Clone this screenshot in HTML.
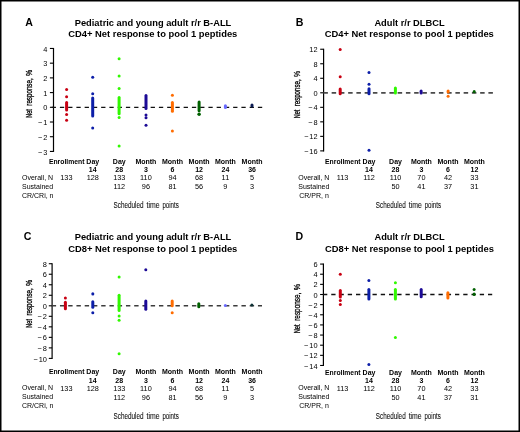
<!DOCTYPE html>
<html><head><meta charset="utf-8"><style>
html,body{margin:0;padding:0;background:#fff;}
body{width:520px;height:432px;overflow:hidden;position:relative;}
svg{position:absolute;left:0;top:0;display:block;will-change:transform;}
text{font-family:"Liberation Sans", sans-serif;fill:#000;}
</style></head><body>
<svg width="520" height="432" viewBox="0 0 520 432">
<rect x="0" y="0" width="520" height="432" fill="#fff"/>
<text x="25.3" y="25.8" font-size="10.6" text-anchor="start" font-weight="bold">A</text>
<text x="153" y="25.8" font-size="9.3" text-anchor="middle" font-weight="bold">Pediatric and young adult r/r B-ALL</text>
<text x="152.8" y="36.8" font-size="9.4" text-anchor="middle" font-weight="bold">CD4+ Net response to pool 1 peptides</text>
<text transform="translate(31.8,117.85) rotate(-90)" x="0" y="0" font-size="9" textLength="8.73" lengthAdjust="spacingAndGlyphs" style="fill:#000;stroke:#000;stroke-width:0.3px">Net</text>
<text transform="translate(31.8,105.67) rotate(-90)" x="0" y="0" font-size="9" textLength="27.30" lengthAdjust="spacingAndGlyphs" style="fill:#000;stroke:#000;stroke-width:0.3px">response,</text>
<text transform="translate(31.8,76.04) rotate(-90)" x="0" y="0" font-size="9" textLength="6.19" lengthAdjust="spacingAndGlyphs" style="fill:#000;stroke:#000;stroke-width:0.3px">%</text>
<line x1="53.5" y1="47.959999999999994" x2="53.5" y2="151.93" stroke="#000" stroke-width="1.2"/>
<line x1="49.9" y1="48.46" x2="53.5" y2="48.46" stroke="#000" stroke-width="1.1"/>
<text x="47.3" y="51.56" font-size="7.4" text-anchor="end">4</text>
<line x1="49.9" y1="63.17" x2="53.5" y2="63.17" stroke="#000" stroke-width="1.1"/>
<text x="47.3" y="66.27" font-size="7.4" text-anchor="end">3</text>
<line x1="49.9" y1="77.88" x2="53.5" y2="77.88" stroke="#000" stroke-width="1.1"/>
<text x="47.3" y="80.98" font-size="7.4" text-anchor="end">2</text>
<line x1="49.9" y1="92.59" x2="53.5" y2="92.59" stroke="#000" stroke-width="1.1"/>
<text x="47.3" y="95.69" font-size="7.4" text-anchor="end">1</text>
<line x1="49.9" y1="107.30" x2="53.5" y2="107.30" stroke="#000" stroke-width="1.1"/>
<text x="47.3" y="110.40" font-size="7.4" text-anchor="end">0</text>
<line x1="49.9" y1="122.01" x2="53.5" y2="122.01" stroke="#000" stroke-width="1.1"/>
<text x="47.3" y="125.11" font-size="7.4" text-anchor="end">−<tspan dx="0.9">1</tspan></text>
<line x1="49.9" y1="136.72" x2="53.5" y2="136.72" stroke="#000" stroke-width="1.1"/>
<text x="47.3" y="139.82" font-size="7.4" text-anchor="end">−<tspan dx="0.9">2</tspan></text>
<line x1="49.9" y1="151.43" x2="53.5" y2="151.43" stroke="#000" stroke-width="1.1"/>
<text x="47.3" y="154.53" font-size="7.4" text-anchor="end">−<tspan dx="0.9">3</tspan></text>
<line x1="51.65" y1="107.3" x2="262.2" y2="107.3" stroke="#111" stroke-width="1.25" stroke-dasharray="4.3 3.95"/>
<circle cx="66.6" cy="89.6" r="1.5" fill="#c80012"/>
<circle cx="66.6" cy="96.8" r="1.5" fill="#c80012"/>
<line x1="66.6" y1="102.50" x2="66.6" y2="110.10" stroke="#c80012" stroke-width="3.0" stroke-linecap="round"/>
<circle cx="66.6" cy="114.4" r="1.5" fill="#c80012"/>
<circle cx="66.6" cy="120.2" r="1.5" fill="#c80012"/>
<circle cx="92.7" cy="77.2" r="1.5" fill="#0c1ea8"/>
<circle cx="92.7" cy="93.7" r="1.5" fill="#0c1ea8"/>
<line x1="92.7" y1="98.10" x2="92.7" y2="115.90" stroke="#0c1ea8" stroke-width="3.0" stroke-linecap="round"/>
<circle cx="92.7" cy="128.0" r="1.5" fill="#0c1ea8"/>
<circle cx="119.1" cy="58.7" r="1.5" fill="#30f800"/>
<circle cx="119.1" cy="76.0" r="1.5" fill="#30f800"/>
<circle cx="119.1" cy="88.6" r="1.5" fill="#30f800"/>
<line x1="119.1" y1="97.50" x2="119.1" y2="113.70" stroke="#30f800" stroke-width="3.0" stroke-linecap="round"/>
<circle cx="119.1" cy="117.6" r="1.5" fill="#30f800"/>
<circle cx="119.1" cy="145.9" r="1.5" fill="#30f800"/>
<line x1="146.0" y1="95.40" x2="146.0" y2="108.50" stroke="#1c0a96" stroke-width="3.0" stroke-linecap="round"/>
<circle cx="146.0" cy="115.1" r="1.5" fill="#1c0a96"/>
<circle cx="146.0" cy="117.8" r="1.5" fill="#1c0a96"/>
<circle cx="146.0" cy="125.3" r="1.5" fill="#1c0a96"/>
<circle cx="172.4" cy="95.3" r="1.5" fill="#ff6c00"/>
<line x1="172.4" y1="102.40" x2="172.4" y2="111.30" stroke="#ff6c00" stroke-width="3.0" stroke-linecap="round"/>
<circle cx="172.4" cy="131.1" r="1.5" fill="#ff6c00"/>
<line x1="199.1" y1="101.90" x2="199.1" y2="110.70" stroke="#006000" stroke-width="3.0" stroke-linecap="round"/>
<circle cx="199.1" cy="114.3" r="1.75" fill="#006000"/>
<line x1="225.4" y1="105.70" x2="225.4" y2="107.40" stroke="#6a6aff" stroke-width="3.0" stroke-linecap="round"/>
<line x1="252.0" y1="105.00" x2="252.0" y2="106.10" stroke="#0a1a52" stroke-width="3.0" stroke-linecap="round"/>
<text x="66.7" y="163.8" font-size="6.8" text-anchor="middle" font-weight="bold">Enrollment</text>
<text x="92.75" y="163.8" font-size="7" text-anchor="middle" font-weight="bold">Day</text>
<text x="92.75" y="172.4" font-size="7" text-anchor="middle" font-weight="bold">14</text>
<text x="119.25" y="163.8" font-size="7" text-anchor="middle" font-weight="bold">Day</text>
<text x="119.25" y="172.4" font-size="7" text-anchor="middle" font-weight="bold">28</text>
<text x="145.9" y="163.8" font-size="7" text-anchor="middle" font-weight="bold">Month</text>
<text x="145.9" y="172.4" font-size="7" text-anchor="middle" font-weight="bold">3</text>
<text x="172.5" y="163.8" font-size="7" text-anchor="middle" font-weight="bold">Month</text>
<text x="172.5" y="172.4" font-size="7" text-anchor="middle" font-weight="bold">6</text>
<text x="199.1" y="163.8" font-size="7" text-anchor="middle" font-weight="bold">Month</text>
<text x="199.1" y="172.4" font-size="7" text-anchor="middle" font-weight="bold">12</text>
<text x="225.4" y="163.8" font-size="7" text-anchor="middle" font-weight="bold">Month</text>
<text x="225.4" y="172.4" font-size="7" text-anchor="middle" font-weight="bold">24</text>
<text x="252.1" y="163.8" font-size="7" text-anchor="middle" font-weight="bold">Month</text>
<text x="252.1" y="172.4" font-size="7" text-anchor="middle" font-weight="bold">36</text>
<text x="22" y="179.6" font-size="7" text-anchor="start">Overall, N</text>
<text x="22" y="188.8" font-size="7" text-anchor="start">Sustained</text>
<text x="22" y="197.6" font-size="7" text-anchor="start">CR/CRi, n</text>
<text x="66.4" y="180.0" font-size="7.3" text-anchor="middle">133</text>
<text x="92.75" y="180.0" font-size="7.3" text-anchor="middle">128</text>
<text x="119.25" y="180.0" font-size="7.3" text-anchor="middle">133</text>
<text x="119.25" y="189.2" font-size="7.3" text-anchor="middle">112</text>
<text x="145.9" y="180.0" font-size="7.3" text-anchor="middle">110</text>
<text x="145.9" y="189.2" font-size="7.3" text-anchor="middle">96</text>
<text x="172.5" y="180.0" font-size="7.3" text-anchor="middle">94</text>
<text x="172.5" y="189.2" font-size="7.3" text-anchor="middle">81</text>
<text x="199.1" y="180.0" font-size="7.3" text-anchor="middle">68</text>
<text x="199.1" y="189.2" font-size="7.3" text-anchor="middle">56</text>
<text x="225.4" y="180.0" font-size="7.3" text-anchor="middle">11</text>
<text x="225.4" y="189.2" font-size="7.3" text-anchor="middle">9</text>
<text x="252.1" y="180.0" font-size="7.3" text-anchor="middle">5</text>
<text x="252.1" y="189.2" font-size="7.3" text-anchor="middle">3</text>
<text x="113.50" y="208.4" font-size="9.7" textLength="30.00" lengthAdjust="spacingAndGlyphs" style="fill:#111;stroke:#111;stroke-width:0.1px">Scheduled</text>
<text x="146.50" y="208.4" font-size="9.7" textLength="13.00" lengthAdjust="spacingAndGlyphs" style="fill:#111;stroke:#111;stroke-width:0.1px">time</text>
<text x="162.40" y="208.4" font-size="9.7" textLength="16.40" lengthAdjust="spacingAndGlyphs" style="fill:#111;stroke:#111;stroke-width:0.1px">points</text>
<text x="295.7" y="25.7" font-size="10.6" text-anchor="start" font-weight="bold">B</text>
<text x="409.5" y="25.8" font-size="9.3" text-anchor="middle" font-weight="bold">Adult r/r DLBCL</text>
<text x="409.3" y="36.8" font-size="9.4" text-anchor="middle" font-weight="bold">CD4+ Net response to pool 1 peptides</text>
<text transform="translate(300.0,118.30) rotate(-90)" x="0" y="0" font-size="9" textLength="8.60" lengthAdjust="spacingAndGlyphs" style="fill:#000;stroke:#000;stroke-width:0.3px">Net</text>
<text transform="translate(300.0,106.30) rotate(-90)" x="0" y="0" font-size="9" textLength="26.90" lengthAdjust="spacingAndGlyphs" style="fill:#000;stroke:#000;stroke-width:0.3px">response,</text>
<text transform="translate(300.0,77.10) rotate(-90)" x="0" y="0" font-size="9" textLength="6.10" lengthAdjust="spacingAndGlyphs" style="fill:#000;stroke:#000;stroke-width:0.3px">%</text>
<line x1="323.6" y1="48.739999999999995" x2="323.6" y2="151.38" stroke="#000" stroke-width="1.2"/>
<line x1="320.20000000000005" y1="49.24" x2="323.6" y2="49.24" stroke="#000" stroke-width="1.1"/>
<text x="317.6" y="52.34" font-size="7.4" text-anchor="end">12</text>
<line x1="320.20000000000005" y1="63.76" x2="323.6" y2="63.76" stroke="#000" stroke-width="1.1"/>
<text x="317.6" y="66.86" font-size="7.4" text-anchor="end">8</text>
<line x1="320.20000000000005" y1="78.28" x2="323.6" y2="78.28" stroke="#000" stroke-width="1.1"/>
<text x="317.6" y="81.38" font-size="7.4" text-anchor="end">4</text>
<line x1="320.20000000000005" y1="92.80" x2="323.6" y2="92.80" stroke="#000" stroke-width="1.1"/>
<text x="317.6" y="95.90" font-size="7.4" text-anchor="end">0</text>
<line x1="320.20000000000005" y1="107.32" x2="323.6" y2="107.32" stroke="#000" stroke-width="1.1"/>
<text x="317.6" y="110.42" font-size="7.4" text-anchor="end">−<tspan dx="0.9">4</tspan></text>
<line x1="320.20000000000005" y1="121.84" x2="323.6" y2="121.84" stroke="#000" stroke-width="1.1"/>
<text x="317.6" y="124.94" font-size="7.4" text-anchor="end">−<tspan dx="0.9">8</tspan></text>
<line x1="320.20000000000005" y1="136.36" x2="323.6" y2="136.36" stroke="#000" stroke-width="1.1"/>
<text x="317.6" y="139.46" font-size="7.4" text-anchor="end">−<tspan dx="0.9">12</tspan></text>
<line x1="320.20000000000005" y1="150.88" x2="323.6" y2="150.88" stroke="#000" stroke-width="1.1"/>
<text x="317.6" y="153.98" font-size="7.4" text-anchor="end">−<tspan dx="0.9">16</tspan></text>
<line x1="323.4" y1="92.8" x2="493.0" y2="92.8" stroke="#4a4a4a" stroke-width="1.8" stroke-dasharray="4.5 3.75"/>
<circle cx="340.2" cy="49.4" r="1.5" fill="#c80012"/>
<circle cx="340.2" cy="76.8" r="1.5" fill="#c80012"/>
<line x1="340.2" y1="89.10" x2="340.2" y2="93.80" stroke="#c80012" stroke-width="3.0" stroke-linecap="round"/>
<circle cx="369.0" cy="72.6" r="1.5" fill="#0c1ea8"/>
<circle cx="369.0" cy="84.2" r="1.5" fill="#0c1ea8"/>
<line x1="369.0" y1="88.70" x2="369.0" y2="93.80" stroke="#0c1ea8" stroke-width="3.0" stroke-linecap="round"/>
<circle cx="369.0" cy="150.2" r="1.5" fill="#0c1ea8"/>
<line x1="395.4" y1="88.00" x2="395.4" y2="93.10" stroke="#30f800" stroke-width="3.0" stroke-linecap="round"/>
<line x1="421.1" y1="90.90" x2="421.1" y2="92.90" stroke="#1c0a96" stroke-width="3.0" stroke-linecap="round"/>
<line x1="448.1" y1="91.10" x2="448.1" y2="92.00" stroke="#ff6c00" stroke-width="3.0" stroke-linecap="round"/>
<circle cx="448.1" cy="96.3" r="1.5" fill="#ff6c00"/>
<line x1="474.2" y1="91.60" x2="474.2" y2="91.70" stroke="#006000" stroke-width="3.0" stroke-linecap="round"/>
<text x="342.8" y="163.8" font-size="6.8" text-anchor="middle" font-weight="bold">Enrollment</text>
<text x="369" y="163.8" font-size="7" text-anchor="middle" font-weight="bold">Day</text>
<text x="369" y="172.4" font-size="7" text-anchor="middle" font-weight="bold">14</text>
<text x="395.5" y="163.8" font-size="7" text-anchor="middle" font-weight="bold">Day</text>
<text x="395.5" y="172.4" font-size="7" text-anchor="middle" font-weight="bold">28</text>
<text x="421.4" y="163.8" font-size="7" text-anchor="middle" font-weight="bold">Month</text>
<text x="421.4" y="172.4" font-size="7" text-anchor="middle" font-weight="bold">3</text>
<text x="448" y="163.8" font-size="7" text-anchor="middle" font-weight="bold">Month</text>
<text x="448" y="172.4" font-size="7" text-anchor="middle" font-weight="bold">6</text>
<text x="474.4" y="163.8" font-size="7" text-anchor="middle" font-weight="bold">Month</text>
<text x="474.4" y="172.4" font-size="7" text-anchor="middle" font-weight="bold">12</text>
<text x="298.25" y="179.6" font-size="7" text-anchor="start">Overall, N</text>
<text x="298.25" y="188.8" font-size="7" text-anchor="start">Sustained</text>
<text x="299.25" y="197.6" font-size="7" text-anchor="start">CR/PR, n</text>
<text x="342.5" y="180.0" font-size="7.3" text-anchor="middle">113</text>
<text x="369" y="180.0" font-size="7.3" text-anchor="middle">112</text>
<text x="395.5" y="180.0" font-size="7.3" text-anchor="middle">110</text>
<text x="395.5" y="189.2" font-size="7.3" text-anchor="middle">50</text>
<text x="421.4" y="180.0" font-size="7.3" text-anchor="middle">70</text>
<text x="421.4" y="189.2" font-size="7.3" text-anchor="middle">41</text>
<text x="448" y="180.0" font-size="7.3" text-anchor="middle">42</text>
<text x="448" y="189.2" font-size="7.3" text-anchor="middle">37</text>
<text x="474.4" y="180.0" font-size="7.3" text-anchor="middle">33</text>
<text x="474.4" y="189.2" font-size="7.3" text-anchor="middle">31</text>
<text x="375.80" y="208.4" font-size="9.7" textLength="29.95" lengthAdjust="spacingAndGlyphs" style="fill:#111;stroke:#111;stroke-width:0.1px">Scheduled</text>
<text x="408.75" y="208.4" font-size="9.7" textLength="12.98" lengthAdjust="spacingAndGlyphs" style="fill:#111;stroke:#111;stroke-width:0.1px">time</text>
<text x="424.63" y="208.4" font-size="9.7" textLength="16.37" lengthAdjust="spacingAndGlyphs" style="fill:#111;stroke:#111;stroke-width:0.1px">points</text>
<text x="23.8" y="240" font-size="10.6" text-anchor="start" font-weight="bold">C</text>
<text x="153" y="240.3" font-size="9.3" text-anchor="middle" font-weight="bold">Pediatric and young adult r/r B-ALL</text>
<text x="152.8" y="251.5" font-size="9.4" text-anchor="middle" font-weight="bold">CD8+ Net response to pool 1 peptides</text>
<text transform="translate(31.8,327.75) rotate(-90)" x="0" y="0" font-size="9" textLength="8.73" lengthAdjust="spacingAndGlyphs" style="fill:#000;stroke:#000;stroke-width:0.3px">Net</text>
<text transform="translate(31.8,315.57) rotate(-90)" x="0" y="0" font-size="9" textLength="27.30" lengthAdjust="spacingAndGlyphs" style="fill:#000;stroke:#000;stroke-width:0.3px">response,</text>
<text transform="translate(31.8,285.94) rotate(-90)" x="0" y="0" font-size="9" textLength="6.19" lengthAdjust="spacingAndGlyphs" style="fill:#000;stroke:#000;stroke-width:0.3px">%</text>
<line x1="52.1" y1="263.22" x2="52.1" y2="358.9" stroke="#000" stroke-width="1.2"/>
<line x1="48.800000000000004" y1="263.72" x2="52.1" y2="263.72" stroke="#000" stroke-width="1.1"/>
<text x="46.9" y="266.82" font-size="7.4" text-anchor="end">8</text>
<line x1="48.800000000000004" y1="274.24" x2="52.1" y2="274.24" stroke="#000" stroke-width="1.1"/>
<text x="46.9" y="277.34" font-size="7.4" text-anchor="end">6</text>
<line x1="48.800000000000004" y1="284.76" x2="52.1" y2="284.76" stroke="#000" stroke-width="1.1"/>
<text x="46.9" y="287.86" font-size="7.4" text-anchor="end">4</text>
<line x1="48.800000000000004" y1="295.28" x2="52.1" y2="295.28" stroke="#000" stroke-width="1.1"/>
<text x="46.9" y="298.38" font-size="7.4" text-anchor="end">2</text>
<line x1="48.800000000000004" y1="305.80" x2="52.1" y2="305.80" stroke="#000" stroke-width="1.1"/>
<text x="46.9" y="308.90" font-size="7.4" text-anchor="end">0</text>
<line x1="48.800000000000004" y1="316.32" x2="52.1" y2="316.32" stroke="#000" stroke-width="1.1"/>
<text x="46.9" y="319.42" font-size="7.4" text-anchor="end">−<tspan dx="0.9">2</tspan></text>
<line x1="48.800000000000004" y1="326.84" x2="52.1" y2="326.84" stroke="#000" stroke-width="1.1"/>
<text x="46.9" y="329.94" font-size="7.4" text-anchor="end">−<tspan dx="0.9">4</tspan></text>
<line x1="48.800000000000004" y1="337.36" x2="52.1" y2="337.36" stroke="#000" stroke-width="1.1"/>
<text x="46.9" y="340.46" font-size="7.4" text-anchor="end">−<tspan dx="0.9">6</tspan></text>
<line x1="48.800000000000004" y1="347.88" x2="52.1" y2="347.88" stroke="#000" stroke-width="1.1"/>
<text x="46.9" y="350.98" font-size="7.4" text-anchor="end">−<tspan dx="0.9">8</tspan></text>
<line x1="48.800000000000004" y1="358.40" x2="52.1" y2="358.40" stroke="#000" stroke-width="1.1"/>
<text x="46.9" y="361.50" font-size="7.4" text-anchor="end">−<tspan dx="0.9">10</tspan></text>
<line x1="51.7" y1="305.8" x2="262.0" y2="305.8" stroke="#3c3c3c" stroke-width="1.5" stroke-dasharray="4.4 3.85"/>
<circle cx="65.4" cy="298.1" r="1.5" fill="#c80012"/>
<line x1="65.4" y1="302.20" x2="65.4" y2="308.80" stroke="#c80012" stroke-width="3.0" stroke-linecap="round"/>
<line x1="92.8" y1="293.70" x2="92.8" y2="294.10" stroke="#0c1ea8" stroke-width="3.0" stroke-linecap="round"/>
<line x1="92.8" y1="301.70" x2="92.8" y2="307.30" stroke="#0c1ea8" stroke-width="3.0" stroke-linecap="round"/>
<circle cx="92.8" cy="312.7" r="1.5" fill="#0c1ea8"/>
<circle cx="119.1" cy="276.9" r="1.5" fill="#30f800"/>
<line x1="119.1" y1="295.30" x2="119.1" y2="310.40" stroke="#30f800" stroke-width="3.0" stroke-linecap="round"/>
<circle cx="119.1" cy="316.0" r="1.5" fill="#30f800"/>
<circle cx="119.1" cy="320.2" r="1.5" fill="#30f800"/>
<circle cx="119.1" cy="353.75" r="1.5" fill="#30f800"/>
<circle cx="145.8" cy="269.7" r="1.5" fill="#1c0a96"/>
<line x1="145.8" y1="301.10" x2="145.8" y2="309.20" stroke="#1c0a96" stroke-width="3.0" stroke-linecap="round"/>
<line x1="172.2" y1="301.10" x2="172.2" y2="305.70" stroke="#ff6c00" stroke-width="3.0" stroke-linecap="round"/>
<circle cx="172.2" cy="312.8" r="1.5" fill="#ff6c00"/>
<line x1="198.8" y1="303.80" x2="198.8" y2="306.70" stroke="#006000" stroke-width="3.0" stroke-linecap="round"/>
<circle cx="225.3" cy="305.4" r="1.5" fill="#6a6aff"/>
<circle cx="251.9" cy="304.9" r="1.5" fill="#0c3236"/>
<text x="66.7" y="374.3" font-size="6.8" text-anchor="middle" font-weight="bold">Enrollment</text>
<text x="92.75" y="374.3" font-size="7" text-anchor="middle" font-weight="bold">Day</text>
<text x="92.75" y="382.6" font-size="7" text-anchor="middle" font-weight="bold">14</text>
<text x="119.25" y="374.3" font-size="7" text-anchor="middle" font-weight="bold">Day</text>
<text x="119.25" y="382.6" font-size="7" text-anchor="middle" font-weight="bold">28</text>
<text x="145.9" y="374.3" font-size="7" text-anchor="middle" font-weight="bold">Month</text>
<text x="145.9" y="382.6" font-size="7" text-anchor="middle" font-weight="bold">3</text>
<text x="172.5" y="374.3" font-size="7" text-anchor="middle" font-weight="bold">Month</text>
<text x="172.5" y="382.6" font-size="7" text-anchor="middle" font-weight="bold">6</text>
<text x="199.1" y="374.3" font-size="7" text-anchor="middle" font-weight="bold">Month</text>
<text x="199.1" y="382.6" font-size="7" text-anchor="middle" font-weight="bold">12</text>
<text x="225.4" y="374.3" font-size="7" text-anchor="middle" font-weight="bold">Month</text>
<text x="225.4" y="382.6" font-size="7" text-anchor="middle" font-weight="bold">24</text>
<text x="252.1" y="374.3" font-size="7" text-anchor="middle" font-weight="bold">Month</text>
<text x="252.1" y="382.6" font-size="7" text-anchor="middle" font-weight="bold">36</text>
<text x="22" y="390.1" font-size="7" text-anchor="start">Overall, N</text>
<text x="22" y="399.3" font-size="7" text-anchor="start">Sustained</text>
<text x="22" y="408.1" font-size="7" text-anchor="start">CR/CRi, n</text>
<text x="66.4" y="390.5" font-size="7.3" text-anchor="middle">133</text>
<text x="92.75" y="390.5" font-size="7.3" text-anchor="middle">128</text>
<text x="119.25" y="390.5" font-size="7.3" text-anchor="middle">133</text>
<text x="119.25" y="399.7" font-size="7.3" text-anchor="middle">112</text>
<text x="145.9" y="390.5" font-size="7.3" text-anchor="middle">110</text>
<text x="145.9" y="399.7" font-size="7.3" text-anchor="middle">96</text>
<text x="172.5" y="390.5" font-size="7.3" text-anchor="middle">94</text>
<text x="172.5" y="399.7" font-size="7.3" text-anchor="middle">81</text>
<text x="199.1" y="390.5" font-size="7.3" text-anchor="middle">68</text>
<text x="199.1" y="399.7" font-size="7.3" text-anchor="middle">56</text>
<text x="225.4" y="390.5" font-size="7.3" text-anchor="middle">11</text>
<text x="225.4" y="399.7" font-size="7.3" text-anchor="middle">9</text>
<text x="252.1" y="390.5" font-size="7.3" text-anchor="middle">5</text>
<text x="252.1" y="399.7" font-size="7.3" text-anchor="middle">3</text>
<text x="113.50" y="418.6" font-size="9.7" textLength="30.00" lengthAdjust="spacingAndGlyphs" style="fill:#111;stroke:#111;stroke-width:0.1px">Scheduled</text>
<text x="146.50" y="418.6" font-size="9.7" textLength="13.00" lengthAdjust="spacingAndGlyphs" style="fill:#111;stroke:#111;stroke-width:0.1px">time</text>
<text x="162.40" y="418.6" font-size="9.7" textLength="16.40" lengthAdjust="spacingAndGlyphs" style="fill:#111;stroke:#111;stroke-width:0.1px">points</text>
<text x="295.4" y="240" font-size="10.6" text-anchor="start" font-weight="bold">D</text>
<text x="409.6" y="239.8" font-size="9.3" text-anchor="middle" font-weight="bold">Adult r/r DLBCL</text>
<text x="409.40000000000003" y="251.7" font-size="9.4" text-anchor="middle" font-weight="bold">CD8+ Net response to pool 1 peptides</text>
<text transform="translate(300.3,333.30) rotate(-90)" x="0" y="0" font-size="9" textLength="8.96" lengthAdjust="spacingAndGlyphs" style="fill:#000;stroke:#000;stroke-width:0.3px">Net</text>
<text transform="translate(300.3,320.79) rotate(-90)" x="0" y="0" font-size="9" textLength="28.04" lengthAdjust="spacingAndGlyphs" style="fill:#000;stroke:#000;stroke-width:0.3px">response,</text>
<text transform="translate(300.3,290.36) rotate(-90)" x="0" y="0" font-size="9" textLength="6.36" lengthAdjust="spacingAndGlyphs" style="fill:#000;stroke:#000;stroke-width:0.3px">%</text>
<line x1="323.4" y1="263.58" x2="323.4" y2="365.98" stroke="#000" stroke-width="1.2"/>
<line x1="320.09999999999997" y1="264.08" x2="323.4" y2="264.08" stroke="#000" stroke-width="1.1"/>
<text x="317.5" y="267.18" font-size="7.4" text-anchor="end">6</text>
<line x1="320.09999999999997" y1="274.22" x2="323.4" y2="274.22" stroke="#000" stroke-width="1.1"/>
<text x="317.5" y="277.32" font-size="7.4" text-anchor="end">4</text>
<line x1="320.09999999999997" y1="284.36" x2="323.4" y2="284.36" stroke="#000" stroke-width="1.1"/>
<text x="317.5" y="287.46" font-size="7.4" text-anchor="end">2</text>
<line x1="320.09999999999997" y1="294.50" x2="323.4" y2="294.50" stroke="#000" stroke-width="1.1"/>
<text x="317.5" y="297.60" font-size="7.4" text-anchor="end">0</text>
<line x1="320.09999999999997" y1="304.64" x2="323.4" y2="304.64" stroke="#000" stroke-width="1.1"/>
<text x="317.5" y="307.74" font-size="7.4" text-anchor="end">−<tspan dx="0.9">2</tspan></text>
<line x1="320.09999999999997" y1="314.78" x2="323.4" y2="314.78" stroke="#000" stroke-width="1.1"/>
<text x="317.5" y="317.88" font-size="7.4" text-anchor="end">−<tspan dx="0.9">4</tspan></text>
<line x1="320.09999999999997" y1="324.92" x2="323.4" y2="324.92" stroke="#000" stroke-width="1.1"/>
<text x="317.5" y="328.02" font-size="7.4" text-anchor="end">−<tspan dx="0.9">6</tspan></text>
<line x1="320.09999999999997" y1="335.06" x2="323.4" y2="335.06" stroke="#000" stroke-width="1.1"/>
<text x="317.5" y="338.16" font-size="7.4" text-anchor="end">−<tspan dx="0.9">8</tspan></text>
<line x1="320.09999999999997" y1="345.20" x2="323.4" y2="345.20" stroke="#000" stroke-width="1.1"/>
<text x="317.5" y="348.30" font-size="7.4" text-anchor="end">−<tspan dx="0.9">10</tspan></text>
<line x1="320.09999999999997" y1="355.34" x2="323.4" y2="355.34" stroke="#000" stroke-width="1.1"/>
<text x="317.5" y="358.44" font-size="7.4" text-anchor="end">−<tspan dx="0.9">12</tspan></text>
<line x1="320.09999999999997" y1="365.48" x2="323.4" y2="365.48" stroke="#000" stroke-width="1.1"/>
<text x="317.5" y="368.58" font-size="7.4" text-anchor="end">−<tspan dx="0.9">14</tspan></text>
<line x1="323.0" y1="294.5" x2="492.2" y2="294.5" stroke="#111" stroke-width="1.3" stroke-dasharray="4.3 3.95"/>
<circle cx="340.3" cy="274.3" r="1.5" fill="#c80012"/>
<line x1="340.3" y1="290.40" x2="340.3" y2="297.10" stroke="#c80012" stroke-width="3.0" stroke-linecap="round"/>
<circle cx="340.3" cy="300.6" r="1.5" fill="#c80012"/>
<circle cx="340.3" cy="304.4" r="1.5" fill="#c80012"/>
<circle cx="368.9" cy="280.4" r="1.5" fill="#0c1ea8"/>
<line x1="368.9" y1="289.40" x2="368.9" y2="299.10" stroke="#0c1ea8" stroke-width="3.0" stroke-linecap="round"/>
<circle cx="368.9" cy="364.5" r="1.5" fill="#0c1ea8"/>
<circle cx="395.4" cy="282.8" r="1.5" fill="#30f800"/>
<line x1="395.4" y1="289.40" x2="395.4" y2="299.10" stroke="#30f800" stroke-width="3.0" stroke-linecap="round"/>
<circle cx="395.4" cy="337.4" r="1.5" fill="#30f800"/>
<line x1="421.2" y1="289.40" x2="421.2" y2="296.80" stroke="#1c0a96" stroke-width="3.0" stroke-linecap="round"/>
<line x1="447.9" y1="292.70" x2="447.9" y2="298.10" stroke="#ff6c00" stroke-width="3.0" stroke-linecap="round"/>
<circle cx="474.1" cy="289.6" r="1.5" fill="#006000"/>
<line x1="474.1" y1="294.60" x2="474.1" y2="294.10" stroke="#006000" stroke-width="3.0" stroke-linecap="round"/>
<text x="342.8" y="374.5" font-size="6.8" text-anchor="middle" font-weight="bold">Enrollment</text>
<text x="369" y="374.5" font-size="7" text-anchor="middle" font-weight="bold">Day</text>
<text x="369" y="382.6" font-size="7" text-anchor="middle" font-weight="bold">14</text>
<text x="395.5" y="374.5" font-size="7" text-anchor="middle" font-weight="bold">Day</text>
<text x="395.5" y="382.6" font-size="7" text-anchor="middle" font-weight="bold">28</text>
<text x="421.4" y="374.5" font-size="7" text-anchor="middle" font-weight="bold">Month</text>
<text x="421.4" y="382.6" font-size="7" text-anchor="middle" font-weight="bold">3</text>
<text x="448" y="374.5" font-size="7" text-anchor="middle" font-weight="bold">Month</text>
<text x="448" y="382.6" font-size="7" text-anchor="middle" font-weight="bold">6</text>
<text x="474.4" y="374.5" font-size="7" text-anchor="middle" font-weight="bold">Month</text>
<text x="474.4" y="382.6" font-size="7" text-anchor="middle" font-weight="bold">12</text>
<text x="298.25" y="390.1" font-size="7" text-anchor="start">Overall, N</text>
<text x="298.25" y="399.3" font-size="7" text-anchor="start">Sustained</text>
<text x="299.25" y="408.1" font-size="7" text-anchor="start">CR/PR, n</text>
<text x="342.5" y="390.5" font-size="7.3" text-anchor="middle">113</text>
<text x="369" y="390.5" font-size="7.3" text-anchor="middle">112</text>
<text x="395.5" y="390.5" font-size="7.3" text-anchor="middle">110</text>
<text x="395.5" y="399.7" font-size="7.3" text-anchor="middle">50</text>
<text x="421.4" y="390.5" font-size="7.3" text-anchor="middle">70</text>
<text x="421.4" y="399.7" font-size="7.3" text-anchor="middle">41</text>
<text x="448" y="390.5" font-size="7.3" text-anchor="middle">42</text>
<text x="448" y="399.7" font-size="7.3" text-anchor="middle">37</text>
<text x="474.4" y="390.5" font-size="7.3" text-anchor="middle">33</text>
<text x="474.4" y="399.7" font-size="7.3" text-anchor="middle">31</text>
<text x="375.80" y="418.6" font-size="9.7" textLength="29.86" lengthAdjust="spacingAndGlyphs" style="fill:#111;stroke:#111;stroke-width:0.1px">Scheduled</text>
<text x="408.65" y="418.6" font-size="9.7" textLength="12.94" lengthAdjust="spacingAndGlyphs" style="fill:#111;stroke:#111;stroke-width:0.1px">time</text>
<text x="424.48" y="418.6" font-size="9.7" textLength="16.32" lengthAdjust="spacingAndGlyphs" style="fill:#111;stroke:#111;stroke-width:0.1px">points</text>
<rect x="0.75" y="0.75" width="518.5" height="430.5" fill="none" stroke="#000" stroke-width="1.5"/>
</svg>
</body></html>
